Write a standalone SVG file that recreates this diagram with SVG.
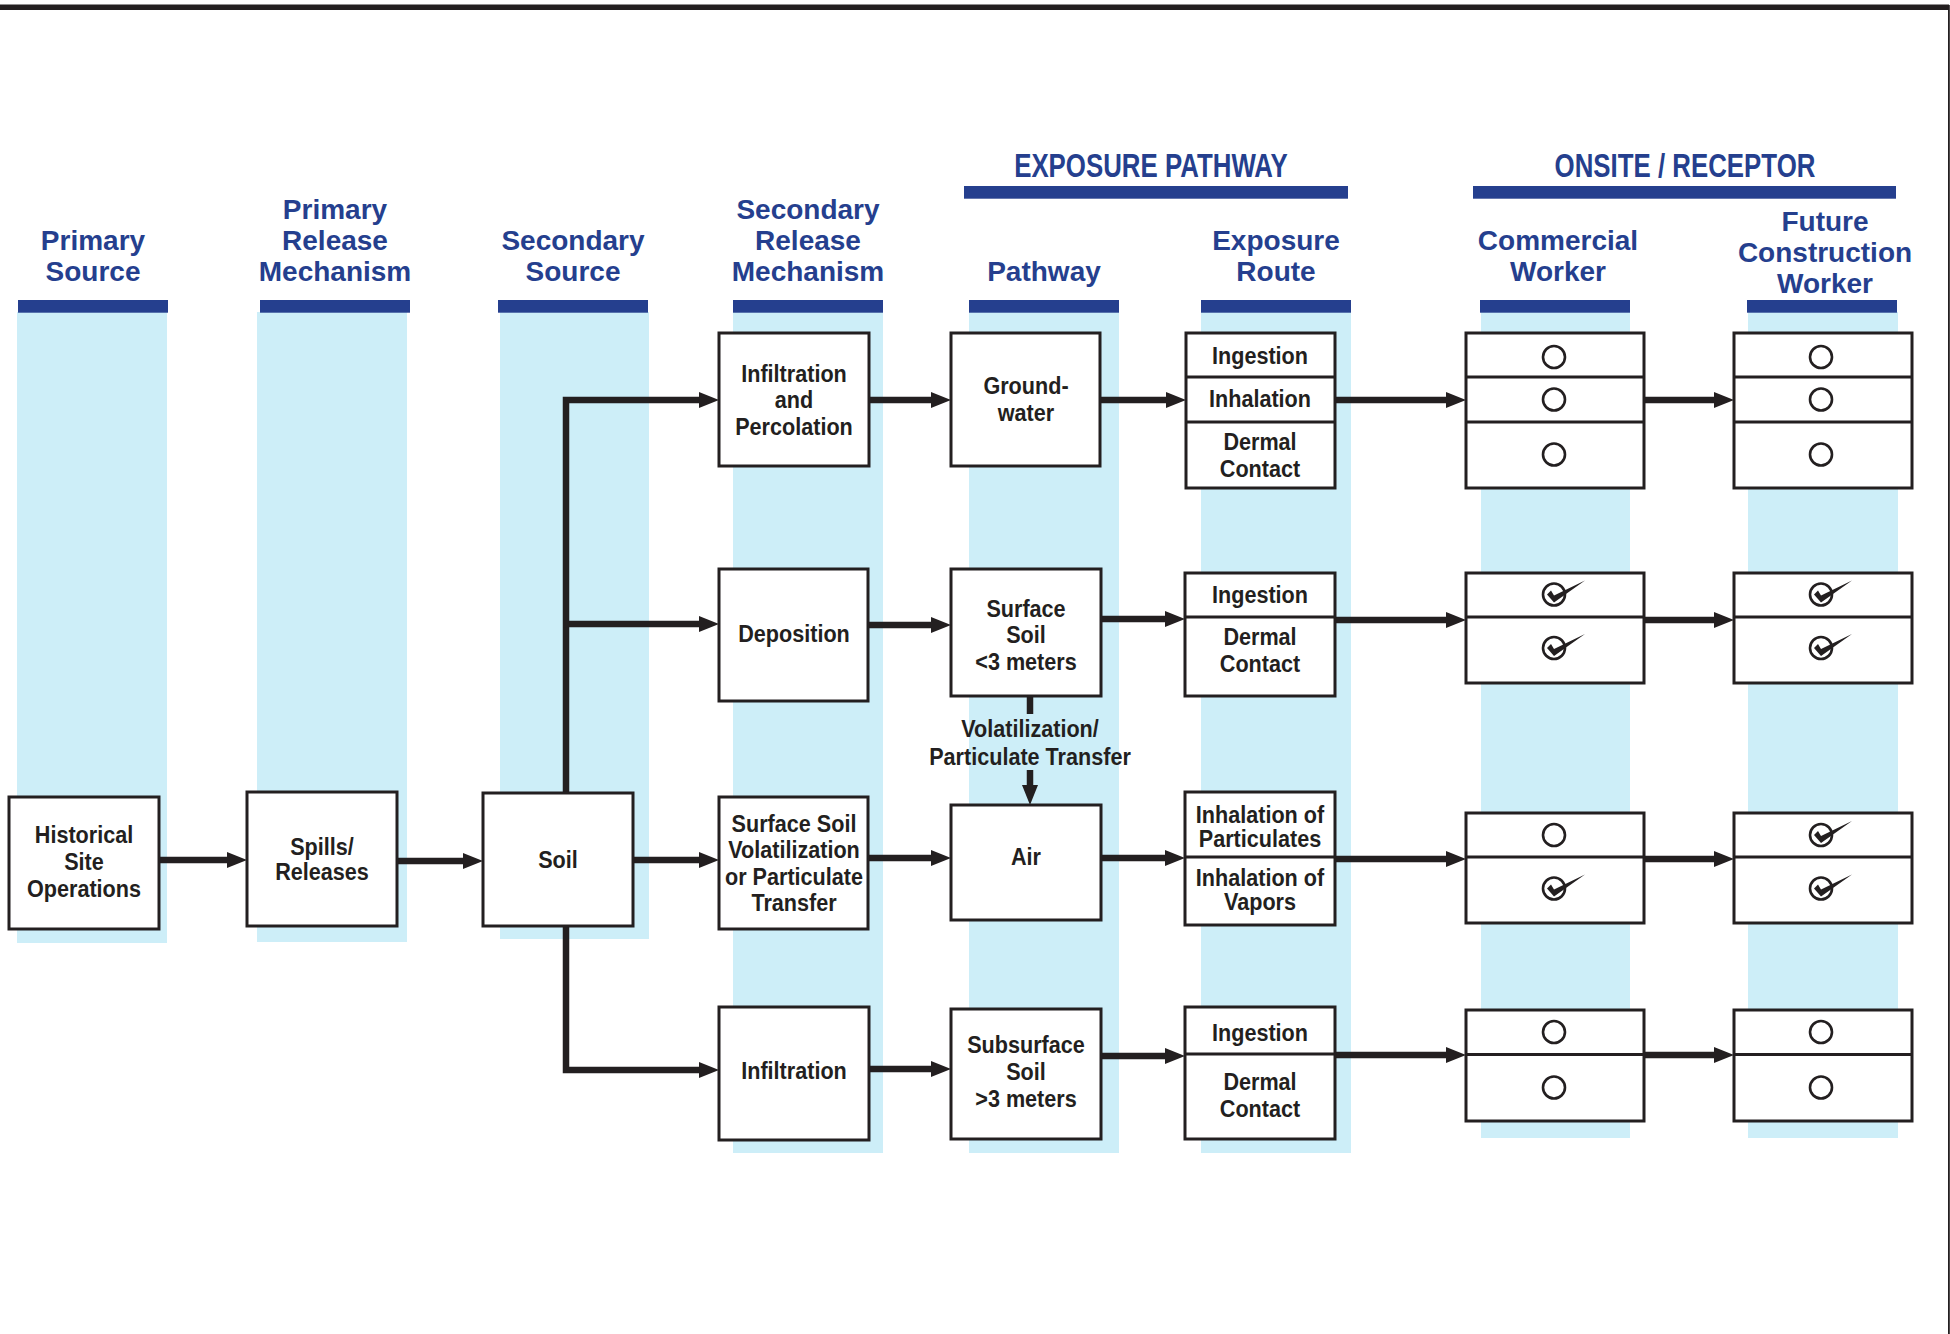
<svg xmlns="http://www.w3.org/2000/svg" width="1950" height="1334" viewBox="0 0 1950 1334">
<style>
.col{fill:#cdeef8}
.bar{fill:#253f8e}
.hdr{font-family:"Liberation Sans",Arial,sans-serif;font-weight:bold;font-size:28px;fill:#253f8e;text-anchor:middle}
.sec{font-family:"Liberation Sans",Arial,sans-serif;font-weight:bold;font-size:34px;fill:#253f8e;text-anchor:middle}
.box{fill:#fff;stroke:#231f20;stroke-width:3}
.dv{stroke:#231f20;stroke-width:3}
.lbl{font-family:"Liberation Sans",Arial,sans-serif;font-weight:bold;font-size:24px;fill:#231f20;text-anchor:middle}
.conn{fill:none;stroke:#231f20;stroke-width:6.5}
.ring{fill:none;stroke:#231f20;stroke-width:2.6}
.tick{fill:#231f20}
</style>
<defs>
<marker id="ah" markerUnits="userSpaceOnUse" markerWidth="20" markerHeight="16" refX="8" refY="8" orient="auto" viewBox="0 0 20 16">
<path d="M0,0 L20,8 L0,16 z" fill="#231f20"/>
</marker>
<g id="chk">
<circle class="ring" cx="0" cy="0" r="11"/>
<path class="tick" d="M-7,0 L-3,-4 L0,1 L31,-14 L0,8 Z"/>
</g>
</defs>
<rect width="1950" height="1334" fill="#fff"/>
<!-- page border -->
<rect x="0" y="4.5" width="1949" height="5.5" fill="#231f20"/>
<rect x="1948" y="5" width="1.8" height="1329" fill="#231f20"/>

<!-- column bands -->
<g id="columns">
<rect class="col" x="17" y="312" width="150" height="631"/>
<rect class="col" x="257" y="312" width="150" height="630"/>
<rect class="col" x="500" y="312" width="149" height="627"/>
<rect class="col" x="733" y="312" width="150" height="841"/>
<rect class="col" x="969" y="312" width="150" height="841"/>
<rect class="col" x="1201" y="312" width="150" height="841"/>
<rect class="col" x="1481" y="312" width="149" height="826"/>
<rect class="col" x="1748" y="312" width="150" height="826"/>
<rect class="bar" x="18" y="300" width="150" height="12.7"/>
<rect class="bar" x="260" y="300" width="150" height="12.7"/>
<rect class="bar" x="498" y="300" width="150" height="12.7"/>
<rect class="bar" x="733" y="300" width="150" height="12.7"/>
<rect class="bar" x="969" y="300" width="150" height="12.7"/>
<rect class="bar" x="1201" y="300" width="150" height="12.7"/>
<rect class="bar" x="1480" y="300" width="150" height="12.7"/>
<rect class="bar" x="1747" y="300" width="150" height="12.7"/>
<rect class="bar" x="964" y="186" width="384" height="12.7"/>
<rect class="bar" x="1473" y="186" width="423" height="12.7"/>
</g>

<!-- headers -->
<g id="headers">
<text class="sec" transform="translate(1151,0) scale(0.76,1)"><tspan x="0" y="177">EXPOSURE PATHWAY</tspan></text>
<text class="sec" transform="translate(1685,0) scale(0.76,1)"><tspan x="0" y="177">ONSITE / RECEPTOR</tspan></text>
<text class="hdr"><tspan x="93" y="250">Primary</tspan><tspan x="93" y="281">Source</tspan></text>
<text class="hdr"><tspan x="335" y="219">Primary</tspan><tspan x="335" y="250">Release</tspan><tspan x="335" y="281">Mechanism</tspan></text>
<text class="hdr"><tspan x="573" y="250">Secondary</tspan><tspan x="573" y="281">Source</tspan></text>
<text class="hdr"><tspan x="808" y="219">Secondary</tspan><tspan x="808" y="250">Release</tspan><tspan x="808" y="281">Mechanism</tspan></text>
<text class="hdr"><tspan x="1044" y="281">Pathway</tspan></text>
<text class="hdr"><tspan x="1276" y="250">Exposure</tspan><tspan x="1276" y="281">Route</tspan></text>
<text class="hdr"><tspan x="1558" y="250">Commercial</tspan><tspan x="1558" y="281">Worker</tspan></text>
<text class="hdr"><tspan x="1825" y="231">Future</tspan><tspan x="1825" y="262">Construction</tspan><tspan x="1825" y="293">Worker</tspan></text>
</g>

<!-- connectors -->
<g id="connectors">
<path class="conn" d="M159,860 H235" marker-end="url(#ah)"/>
<path class="conn" d="M397,861 H471" marker-end="url(#ah)"/>
<path class="conn" d="M633,860 H707" marker-end="url(#ah)"/>
<path class="conn" d="M566,793 V400 H707" marker-end="url(#ah)"/>
<path class="conn" d="M563,624 H707" marker-end="url(#ah)"/>
<path class="conn" d="M566,926 V1070 H707" marker-end="url(#ah)"/>
<path class="conn" d="M869,400 H939" marker-end="url(#ah)"/>
<path class="conn" d="M868,625 H939" marker-end="url(#ah)"/>
<path class="conn" d="M868,858 H939" marker-end="url(#ah)"/>
<path class="conn" d="M869,1069 H939" marker-end="url(#ah)"/>
<path class="conn" d="M1100,400 H1174" marker-end="url(#ah)"/>
<path class="conn" d="M1101,619 H1173" marker-end="url(#ah)"/>
<path class="conn" d="M1101,858 H1173" marker-end="url(#ah)"/>
<path class="conn" d="M1101,1056 H1173" marker-end="url(#ah)"/>
<path class="conn" d="M1335,400 H1454" marker-end="url(#ah)"/>
<path class="conn" d="M1335,620 H1454" marker-end="url(#ah)"/>
<path class="conn" d="M1335,859 H1454" marker-end="url(#ah)"/>
<path class="conn" d="M1335,1055 H1454" marker-end="url(#ah)"/>
<path class="conn" d="M1644,400 H1722" marker-end="url(#ah)"/>
<path class="conn" d="M1644,620 H1722" marker-end="url(#ah)"/>
<path class="conn" d="M1644,859 H1722" marker-end="url(#ah)"/>
<path class="conn" d="M1644,1055 H1722" marker-end="url(#ah)"/>
<path class="conn" d="M1030,696 V714"/>
<path class="conn" d="M1030,770 V793" marker-end="url(#ah)"/>
<text class="lbl" transform="translate(1030,0) scale(0.9,1)"><tspan x="0" y="737">Volatilization/</tspan><tspan x="0" y="765">Particulate Transfer</tspan></text>
</g>

<!-- nodes -->
<g id="n-historical">
<rect class="box" x="9" y="797" width="150" height="132"/>
<text class="lbl" transform="translate(84,0) scale(0.9,1)"><tspan x="0" y="843">Historical</tspan><tspan x="0" y="870">Site</tspan><tspan x="0" y="897">Operations</tspan></text>
</g>
<g id="n-spills">
<rect class="box" x="247" y="792" width="150" height="134"/>
<text class="lbl" transform="translate(322,0) scale(0.9,1)"><tspan x="0" y="855">Spills/</tspan><tspan x="0" y="880">Releases</tspan></text>
</g>
<g id="n-soil">
<rect class="box" x="483" y="793" width="150" height="133"/>
<text class="lbl" transform="translate(558,0) scale(0.9,1)"><tspan x="0" y="868">Soil</tspan></text>
</g>
<g id="n-infperc">
<rect class="box" x="719" y="333" width="150" height="133"/>
<text class="lbl" transform="translate(794,0) scale(0.9,1)"><tspan x="0" y="382">Infiltration</tspan><tspan x="0" y="408">and</tspan><tspan x="0" y="435">Percolation</tspan></text>
</g>
<g id="n-deposition">
<rect class="box" x="719" y="569" width="149" height="132"/>
<text class="lbl" transform="translate(794,0) scale(0.9,1)"><tspan x="0" y="642">Deposition</tspan></text>
</g>
<g id="n-ssvol">
<rect class="box" x="719" y="797" width="149" height="132"/>
<text class="lbl" transform="translate(794,0) scale(0.9,1)"><tspan x="0" y="832">Surface Soil</tspan><tspan x="0" y="858">Volatilization</tspan><tspan x="0" y="885">or Particulate</tspan><tspan x="0" y="911">Transfer</tspan></text>
</g>
<g id="n-infiltration">
<rect class="box" x="719" y="1007" width="150" height="133"/>
<text class="lbl" transform="translate(794,0) scale(0.9,1)"><tspan x="0" y="1079">Infiltration</tspan></text>
</g>
<g id="n-groundwater">
<rect class="box" x="951" y="333" width="149" height="133"/>
<text class="lbl" transform="translate(1026,0) scale(0.9,1)"><tspan x="0" y="394">Ground-</tspan><tspan x="0" y="421">water</tspan></text>
</g>
<g id="n-surfacesoil">
<rect class="box" x="951" y="569" width="150" height="127"/>
<text class="lbl" transform="translate(1026,0) scale(0.9,1)"><tspan x="0" y="617">Surface</tspan><tspan x="0" y="643">Soil</tspan><tspan x="0" y="670">&lt;3 meters</tspan></text>
</g>
<g id="n-air">
<rect class="box" x="951" y="805" width="150" height="115"/>
<text class="lbl" transform="translate(1026,0) scale(0.9,1)"><tspan x="0" y="865">Air</tspan></text>
</g>
<g id="n-subsurface">
<rect class="box" x="951" y="1009" width="150" height="130"/>
<text class="lbl" transform="translate(1026,0) scale(0.9,1)"><tspan x="0" y="1053">Subsurface</tspan><tspan x="0" y="1080">Soil</tspan><tspan x="0" y="1107">&gt;3 meters</tspan></text>
</g>
<g id="n-route1">
<rect class="box" x="1186" y="333" width="149" height="155"/>
<line class="dv" x1="1186" y1="377" x2="1335" y2="377"/>
<line class="dv" x1="1186" y1="422" x2="1335" y2="422"/>
<text class="lbl" transform="translate(1260,0) scale(0.9,1)"><tspan x="0" y="364">Ingestion</tspan><tspan x="0" y="407">Inhalation</tspan><tspan x="0" y="450">Dermal</tspan><tspan x="0" y="477">Contact</tspan></text>
</g>
<g id="n-route2">
<rect class="box" x="1185" y="573" width="150" height="123"/>
<line class="dv" x1="1185" y1="617" x2="1335" y2="617"/>
<text class="lbl" transform="translate(1260,0) scale(0.9,1)"><tspan x="0" y="603">Ingestion</tspan><tspan x="0" y="645">Dermal</tspan><tspan x="0" y="672">Contact</tspan></text>
</g>
<g id="n-route3">
<rect class="box" x="1185" y="792" width="150" height="133"/>
<line class="dv" x1="1185" y1="857" x2="1335" y2="857"/>
<text class="lbl" transform="translate(1260,0) scale(0.9,1)"><tspan x="0" y="823">Inhalation of</tspan><tspan x="0" y="847">Particulates</tspan><tspan x="0" y="886">Inhalation of</tspan><tspan x="0" y="910.5">Vapors</tspan></text>
</g>
<g id="n-route4">
<rect class="box" x="1185" y="1007" width="150" height="132"/>
<line class="dv" x1="1185" y1="1054" x2="1335" y2="1054"/>
<text class="lbl" transform="translate(1260,0) scale(0.9,1)"><tspan x="0" y="1041">Ingestion</tspan><tspan x="0" y="1090">Dermal</tspan><tspan x="0" y="1117">Contact</tspan></text>
</g>

<g id="n-comm1">
<rect class="box" x="1466" y="333" width="178" height="155"/>
<line class="dv" x1="1466" y1="377" x2="1644" y2="377"/>
<line class="dv" x1="1466" y1="422" x2="1644" y2="422"/>
<circle class="ring" cx="1554" cy="357" r="11"/>
<circle class="ring" cx="1554" cy="399.5" r="11"/>
<circle class="ring" cx="1554" cy="454.5" r="11"/>
</g>
<g id="n-comm2">
<rect class="box" x="1466" y="573" width="178" height="110"/>
<line class="dv" x1="1466" y1="617" x2="1644" y2="617"/>
<use href="#chk" x="1554" y="594.5"/>
<use href="#chk" x="1554" y="648"/>
</g>
<g id="n-comm3">
<rect class="box" x="1466" y="813" width="178" height="110"/>
<line class="dv" x1="1466" y1="857" x2="1644" y2="857"/>
<circle class="ring" cx="1554" cy="835" r="11"/>
<use href="#chk" x="1554" y="888.5"/>
</g>
<g id="n-comm4">
<rect class="box" x="1466" y="1010" width="178" height="111"/>
<line class="dv" x1="1466" y1="1054.5" x2="1644" y2="1054.5"/>
<circle class="ring" cx="1554" cy="1032" r="11"/>
<circle class="ring" cx="1554" cy="1087.5" r="11"/>
</g>

<g id="n-fut1">
<rect class="box" x="1734" y="333" width="178" height="155"/>
<line class="dv" x1="1734" y1="377" x2="1912" y2="377"/>
<line class="dv" x1="1734" y1="422" x2="1912" y2="422"/>
<circle class="ring" cx="1821" cy="357" r="11"/>
<circle class="ring" cx="1821" cy="399.5" r="11"/>
<circle class="ring" cx="1821" cy="454.5" r="11"/>
</g>
<g id="n-fut2">
<rect class="box" x="1734" y="573" width="178" height="110"/>
<line class="dv" x1="1734" y1="617" x2="1912" y2="617"/>
<use href="#chk" x="1821" y="594.5"/>
<use href="#chk" x="1821" y="648"/>
</g>
<g id="n-fut3">
<rect class="box" x="1734" y="813" width="178" height="110"/>
<line class="dv" x1="1734" y1="857" x2="1912" y2="857"/>
<use href="#chk" x="1821" y="835"/>
<use href="#chk" x="1821" y="888.5"/>
</g>
<g id="n-fut4">
<rect class="box" x="1734" y="1010" width="178" height="111"/>
<line class="dv" x1="1734" y1="1054.5" x2="1912" y2="1054.5"/>
<circle class="ring" cx="1821" cy="1032" r="11"/>
<circle class="ring" cx="1821" cy="1087.5" r="11"/>
</g>
</svg>
